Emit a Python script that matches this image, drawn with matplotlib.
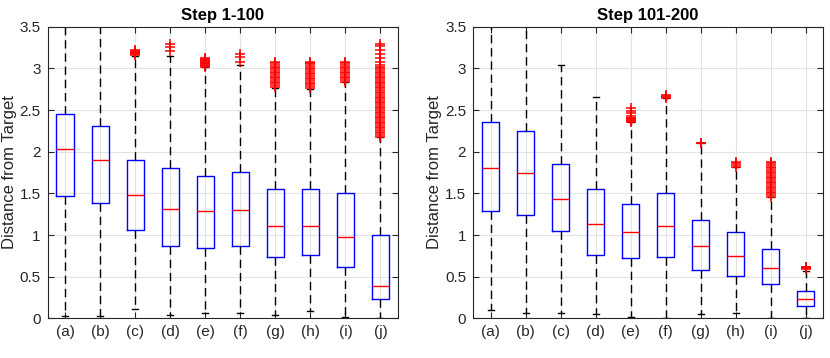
import matplotlib.pyplot as plt
import numpy as np

plt.rcParams['font.family'] = ['Liberation Sans', 'DejaVu Sans']

labels = ['(a)', '(b)', '(c)', '(d)', '(e)', '(f)', '(g)', '(h)', '(i)', '(j)']

# Step 1-100
s1_low = [0.028, 0.028, 0.108, 0.036, 0.068, 0.064, 0.036, 0.088, 0.012, 0.008]
s1_q1 = [1.464, 1.388, 1.064, 0.872, 0.840, 0.868, 0.740, 0.756, 0.612, 0.232]
s1_med = [2.028, 1.904, 1.476, 1.316, 1.284, 1.296, 1.104, 1.108, 0.972, 0.388]
s1_q3 = [2.452, 2.304, 1.900, 1.804, 1.708, 1.756, 1.548, 1.556, 1.500, 1.004]
s1_high = [3.70, 3.70, 3.155, 3.152, 3.02, 3.04, 2.76, 2.75, 2.84, 2.18]
s1_out = [
    [],
    [],
    [3.16, 3.17, 3.18, 3.19, 3.20, 3.21, 3.22],
    [3.21, 3.26, 3.30],
    [3.02, 3.03, 3.04, 3.05, 3.06, 3.07, 3.08, 3.09, 3.10, 3.11, 3.12],
    [3.08, 3.14, 3.17],
    [2.78, 2.80, 2.82, 2.84, 2.86, 2.88, 2.90, 2.92, 2.94, 2.96, 2.98,
     3.00, 3.02, 3.04, 3.06, 3.08],
    [2.77, 2.79, 2.81, 2.83, 2.85, 2.87, 2.89, 2.91, 2.93, 2.95, 2.97,
     2.99, 3.01, 3.03, 3.05, 3.07, 3.08],
    [2.84, 2.86, 2.88, 2.90, 2.92, 2.94, 2.96, 2.98, 3.00, 3.02, 3.04,
     3.06, 3.08],
    [2.18, 2.20, 2.22, 2.24, 2.26, 2.28, 2.30, 2.32, 2.34, 2.36, 2.38,
     2.40, 2.42, 2.44, 2.46, 2.48, 2.50, 2.52, 2.54, 2.56, 2.58, 2.60,
     2.62, 2.64, 2.66, 2.68, 2.70, 2.72, 2.74, 2.76, 2.78, 2.80, 2.82,
     2.84, 2.86, 2.88, 2.90, 2.92, 2.94, 2.96, 2.98, 3.00, 3.02, 3.04,
     3.08, 3.13, 3.17, 3.22, 3.27, 3.30],
]

# Step 101-200
s2_low = [0.096, 0.064, 0.068, 0.048, 0.012, 0.008, 0.048, 0.060, 0.004, 0.004]
s2_q1 = [1.292, 1.236, 1.044, 0.760, 0.724, 0.740, 0.584, 0.504, 0.408, 0.148]
s2_med = [1.804, 1.740, 1.436, 1.132, 1.032, 1.104, 0.868, 0.744, 0.604, 0.228]
s2_q3 = [2.360, 2.252, 1.856, 1.556, 1.376, 1.500, 1.184, 1.036, 0.832, 0.324]
s2_high = [3.70, 3.70, 3.04, 2.66, 2.36, 2.64, 2.10, 1.82, 1.46, 0.57]
s2_out = [
    [],
    [],
    [],
    [],
    [2.36, 2.37, 2.38, 2.39, 2.40, 2.41, 2.43, 2.46, 2.49, 2.52],
    [2.65, 2.66, 2.67, 2.68],
    [2.10, 2.11],
    [1.82, 1.84, 1.86, 1.88],
    [1.46, 1.48, 1.50, 1.52, 1.54, 1.56, 1.58, 1.60, 1.62, 1.64, 1.66,
     1.68, 1.70, 1.72, 1.74, 1.76, 1.78, 1.80, 1.82, 1.84, 1.86, 1.88],
    [0.59, 0.60, 0.61, 0.62],
]


def make_stats(low, q1, med, q3, high, out):
    stats = []
    for i in range(len(labels)):
        stats.append(dict(whislo=low[i], q1=q1[i], med=med[i], q3=q3[i],
                          whishi=high[i], fliers=out[i], label=labels[i]))
    return stats


def draw(ax, stats, title):
    ax.bxp(stats, positions=np.arange(1, 11), widths=0.5, capwidths=0.17,
           boxprops=dict(color='#0000ff', lw=1.0),
           medianprops=dict(color='#ff0000', lw=1.0),
           whiskerprops=dict(color='black', lw=1.0, ls=(0, (6, 3.5))),
           capprops=dict(color='black', lw=1.0),
           flierprops=dict(marker='+', markeredgecolor='#ff0000',
                           markersize=7, markeredgewidth=1.1, ls='none'))
    ax.set_xlim(0.5, 10.5)
    ax.set_ylim(0, 3.5)
    ax.set_yticks([0, 0.5, 1, 1.5, 2, 2.5, 3, 3.5])
    ax.set_yticklabels(['0', '0.5', '1', '1.5', '2', '2.5', '3', '3.5'])
    ax.set_xticks(np.arange(1, 11))
    ax.set_xticklabels(labels)
    ax.grid(True, color='#e3e3e3', lw=0.8)
    ax.set_axisbelow(True)
    ax.tick_params(direction='in', length=4, width=0.8, top=True, right=True,
                   labelsize=11, colors='#262626', pad=5)
    for sp in ax.spines.values():
        sp.set_color('#262626')
        sp.set_linewidth(0.8)
    ax.set_ylabel('Distance from Target', fontsize=12, color='#262626')
    ax.yaxis.set_label_coords(-0.088, 0.5)
    ax.set_title(title, fontsize=12, fontweight='bold', pad=5)


fig = plt.figure(figsize=(8.3, 3.58), dpi=100)
ax1 = fig.add_axes([0.0575, 0.111, 0.422, 0.814])
ax2 = fig.add_axes([0.570, 0.111, 0.4217, 0.814])
draw(ax1, make_stats(s1_low, s1_q1, s1_med, s1_q3, s1_high, s1_out), 'Step 1-100')
draw(ax2, make_stats(s2_low, s2_q1, s2_med, s2_q3, s2_high, s2_out), 'Step 101-200')
fig.savefig('out.png', dpi=100)
